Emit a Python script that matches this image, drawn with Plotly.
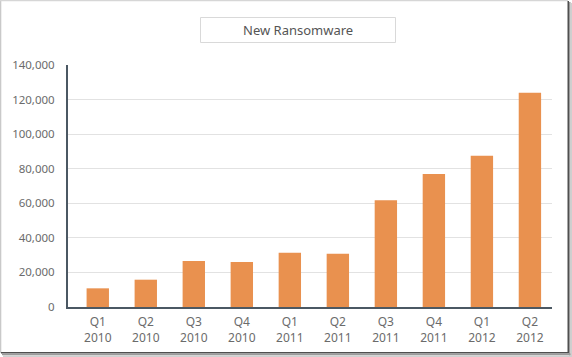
import plotly.graph_objects as go

# ---- data ----
quarters = ["Q1", "Q2", "Q3", "Q4", "Q1", "Q2", "Q3", "Q4", "Q1", "Q2"]
years = ["2010", "2010", "2010", "2010", "2011", "2011", "2011", "2011", "2012", "2012"]
new_ransomware = [10800, 15800, 26600, 26000, 31400, 30800, 61700, 76900, 87500, 124000]
y_ticks = [0, 20000, 40000, 60000, 80000, 100000, 120000, 140000]
title_text = "New Ransomware"

categories = [f"{q}<br>{y}" for q, y in zip(quarters, years)]

W, H = 572, 357
ML, MR, MT, MB = 68, 20, 65, 50
PW, PH = W - ML - MR, H - MT - MB


def px(x):
    return (x - ML) / PW


def py(y):
    return (H - MB - y) / PH


FONT = "Noto Sans"
TXT = "#6b6b6b"
AXIS = "#4b5863"

fig = go.Figure()
fig.add_trace(go.Bar(
    x=categories,
    y=new_ransomware,
    width=0.466,
    marker=dict(color="#E9914F", line=dict(width=0)),
    hoverinfo="x+y",
))

shapes = []


def rect(x0, y0, x1, y1, fill, line_color=None, line_width=0):
    shapes.append(dict(
        type="rect", xref="paper", yref="paper", layer="below",
        x0=px(x0), x1=px(x1), y0=py(y1), y1=py(y0),
        fillcolor=fill,
        line=dict(color=line_color or fill, width=line_width),
    ))


# frame with shadow
rect(0, 0, 1.3, 353, "#c9c9c9")
rect(0, 0, 568, 1.2, "#d6d6d6")
rect(567.5, 1, 569, 353, "#4f4f4f")
rect(569, 2, 570.5, 357, "#9a9a9a")
rect(570.5, 3, 572, 357, "#cfcfcf")
rect(1, 352, 569, 353.5, "#4f4f4f")
rect(2, 353.5, 570.5, 355.2, "#9a9a9a")
rect(3, 355.2, 572, 357, "#cfcfcf")

# title box
shapes.append(dict(
    type="rect", xref="paper", yref="paper", layer="above",
    x0=px(200.5), x1=px(395.5), y0=py(42.5), y1=py(17.5),
    fillcolor="rgba(255,255,255,0)", line=dict(color="#d9d9d9", width=1),
))

fig.update_layout(
    width=W, height=H,
    margin=dict(l=ML, r=MR, t=MT, b=MB, pad=0),
    paper_bgcolor="white",
    plot_bgcolor="rgba(0,0,0,0)",
    showlegend=False,
    shapes=shapes,
    font=dict(family=FONT, color=TXT, size=12),
    annotations=[dict(
        text=title_text, xref="paper", yref="paper",
        x=px(298), y=py(30), xanchor="center", yanchor="middle",
        showarrow=False, font=dict(family=FONT, size=13, color="#555555"),
    )],
    xaxis=dict(
        type="category",
        range=[-0.62, 9.46],
        showgrid=False,
        showline=True, linecolor=AXIS, linewidth=2,
        ticks="",
        ticklabelstandoff=3,
        tickfont=dict(family=FONT, size=12, color=TXT),
        fixedrange=True,
    ),
    yaxis=dict(
        range=[0, 140000],
        tickvals=y_ticks,
        tickformat=",d",
        showgrid=True, gridcolor="#e2e2e2", gridwidth=1,
        zeroline=False,
        showline=True, linecolor=AXIS, linewidth=2,
        ticks="",
        ticklabelstandoff=9,
        tickfont=dict(family=FONT, size=11.5, color=TXT),
        fixedrange=True,
    ),
)

fig.write_html(
    "out.html",
    config=dict(displayModeBar=False),
    post_script="document.body.style.margin='0';document.body.style.overflow='hidden';",
)
